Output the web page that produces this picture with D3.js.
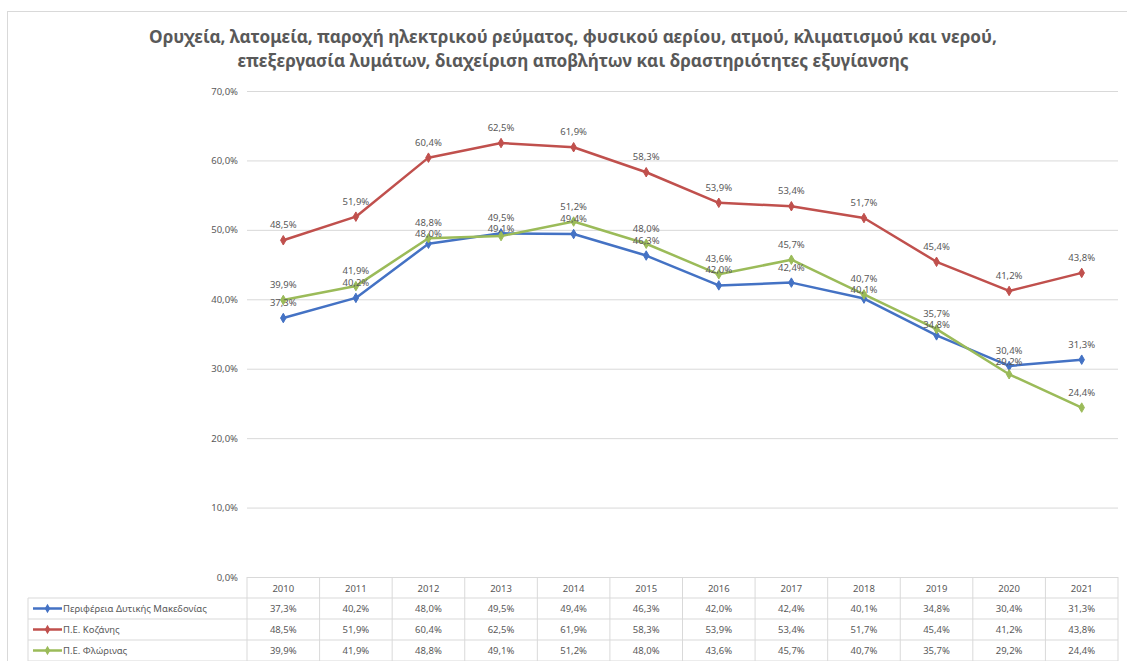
<!DOCTYPE html>
<html><head><meta charset="utf-8">
<script src="https://cdn.jsdelivr.net/npm/d3@7"></script>
<style>
html,body{margin:0;padding:0;background:#fff;}
svg{display:block;font-family:"Noto Sans","Open Sans",sans-serif;}
</style></head>
<body><svg id="chart" width="1127" height="661"></svg>
<script>
const titleLines = ["Ορυχεία, λατομεία, παροχή ηλεκτρικού ρεύματος, φυσικού αερίου, ατμού, κλιματισμού και νερού,",
                    "επεξεργασία λυμάτων, διαχείριση αποβλήτων και δραστηριότητες εξυγίανσης"];
const years = ["2010","2011","2012","2013","2014","2015","2016","2017","2018","2019","2020","2021"];
const seriesNames = ["Περιφέρεια Δυτικής Μακεδονίας","Π.Ε. Κοζάνης","Π.Ε. Φλώρινας"];
const westMacedonia = [37.3,40.2,48.0,49.5,49.4,46.3,42.0,42.4,40.1,34.8,30.4,31.3];
const kozani = [48.5,51.9,60.4,62.5,61.9,58.3,53.9,53.4,51.7,45.4,41.2,43.8];
const florina = [39.9,41.9,48.8,49.1,51.2,48.0,43.6,45.7,40.7,35.7,29.2,24.4];
const yTicks = [0,10,20,30,40,50,60,70];
const colors = ["#4472C4","#C0504D","#9BBB59"];

const series = [westMacedonia, kozani, florina].map((v,i)=>({name:seriesNames[i], values:v, color:colors[i]}));
const fmt = v => d3.format(".1f")(v).replace(".", ",") + "%";

const svg = d3.select("#chart");
const plot = {left:247, right:1118, top:91, bottom:577};
const textCol = "#595959", gridCol = "#D9D9D9";

// outer chart border
svg.append("rect").attr("x",7.5).attr("y",11.5).attr("width",1130).attr("height",660)
  .attr("fill","#fff").attr("stroke","#D9D9D9");

// title
svg.append("g").selectAll("text").data(titleLines).join("text")
  .attr("x",573).attr("y",(d,i)=>43+i*24)
  .attr("text-anchor","middle").attr("font-size",17.2).attr("font-weight","bold")
  .attr("fill",textCol).text(d=>d);

const x = d3.scaleBand().domain(years).range([plot.left, plot.right]);
const y = d3.scaleLinear().domain([0,70]).range([plot.bottom, plot.top]);
const cx = i => x(years[i]) + x.bandwidth()/2;

// gridlines + y axis
const yAxis = d3.axisLeft(y).tickValues(yTicks).tickSize(-(plot.right-plot.left)).tickFormat(fmt).tickPadding(9);
const gy = svg.append("g").attr("transform",`translate(${plot.left},0)`).call(yAxis);
gy.select(".domain").remove();
gy.selectAll(".tick line").attr("stroke",gridCol).attr("stroke-width",1);
gy.selectAll(".tick text").attr("fill",textCol).attr("font-size",9.5).attr("font-family","Noto Sans, sans-serif");

// lines
const line = d3.line().x((d,i)=>cx(i)).y(d=>y(d));
const gs = svg.append("g");
series.forEach(s=>{
  gs.append("path").attr("d",line(s.values)).attr("fill","none").attr("stroke",s.color)
    .attr("stroke-width",2.5).attr("stroke-linejoin","round");
});
const diamond = d3.symbol().type(d3.symbolDiamond).size(26);
series.forEach(s=>{
  gs.append("g").selectAll("path").data(s.values).join("path")
    .attr("d",diamond)
    .attr("transform",(d,i)=>`translate(${cx(i)},${y(d)})`)
    .attr("fill",s.color).attr("stroke",s.color);
});
// data labels, stacked where they would collide
const labels = [];
years.forEach((yr,i)=>{
  const col = series.map((s,k)=>({k, v:s.values[i], x:cx(i), y:y(s.values[i])-12}));
  col.sort((a,b)=>a.y-b.y);
  for(let j=1;j<col.length;j++){
    if(col[j].y - col[j-1].y < 11) col[j].y = col[j-1].y + 11;
  }
  labels.push(...col);
});
gs.append("g").selectAll("text").data(labels).join("text")
  .attr("x",d=>d.x).attr("y",d=>d.y)
  .attr("text-anchor","middle").attr("font-size",9.5).attr("fill",textCol)
  .text(d=>fmt(d.v));

// data table
const rowH = 21;
const tableTop = plot.bottom;
const legLeft = 28;
const gt = svg.append("g");
const colEdges = years.map(yr=>x(yr)).concat([plot.right]);
gt.selectAll("line.v").data(colEdges).join("line")
  .attr("x1",d=>d).attr("x2",d=>d).attr("y1",tableTop).attr("y2",tableTop+rowH*4)
  .attr("stroke",gridCol);
[1,2,3,4].forEach(r=>{
  gt.append("line").attr("x1",legLeft).attr("x2",plot.right)
    .attr("y1",tableTop+r*rowH).attr("y2",tableTop+r*rowH).attr("stroke",gridCol);
});
gt.append("line").attr("x1",legLeft).attr("x2",legLeft).attr("y1",tableTop+rowH).attr("y2",tableTop+rowH*4).attr("stroke",gridCol);
gt.selectAll("text.yr").data(years).join("text")
  .attr("x",d=>x(d)+x.bandwidth()/2).attr("y",tableTop+rowH/2+4)
  .attr("text-anchor","middle").attr("font-size",9.5).attr("fill",textCol).text(d=>d);
series.forEach((s,r)=>{
  const cy = tableTop+(r+1)*rowH+rowH/2;
  gt.append("line").attr("x1",33).attr("x2",62).attr("y1",cy).attr("y2",cy)
    .attr("stroke",s.color).attr("stroke-width",2.5);
  gt.append("path").attr("d",diamond).attr("transform",`translate(47.5,${cy})`).attr("fill",s.color);
  gt.append("text").attr("x",63).attr("y",cy+3.5).attr("font-size",9.5).attr("fill",textCol).text(s.name);
  gt.append("g").selectAll("text").data(s.values).join("text")
    .attr("x",(d,i)=>cx(i)).attr("y",cy+3.5)
    .attr("text-anchor","middle").attr("font-size",9.5).attr("fill",textCol).text(d=>fmt(d));
});
</script></body></html>
